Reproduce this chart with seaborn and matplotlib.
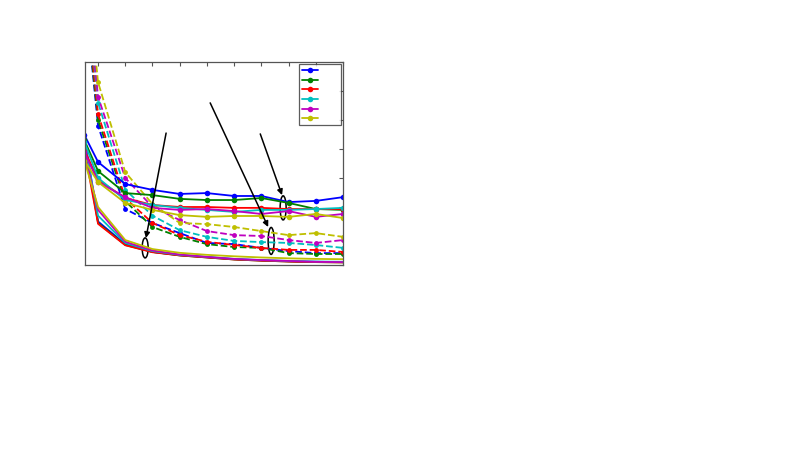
import numpy as np
import pandas as pd
import matplotlib
matplotlib.use("Agg")
import matplotlib.pyplot as plt
import seaborn as sns
from matplotlib.patches import Ellipse

sns.set_style("white")

x_vals = [0.5, 1, 2, 3, 4, 5, 6, 7, 8, 9, 10]
colors = ["#0000ff", "#008000", "#ff0000", "#00bfbf", "#bf00bf", "#bfbf00"]

# upper group: solid lines with markers
solid_marked = [
    [4.48, 3.55, 2.79, 2.59, 2.45, 2.48, 2.38, 2.38, 2.17, 2.21, 2.34],
    [4.30, 3.24, 2.48, 2.41, 2.28, 2.24, 2.24, 2.31, 2.14, 1.93, 1.90],
    [3.97, 2.93, 2.31, 2.07, 2.00, 2.00, 1.97, 1.97, 1.93, 1.93, 1.93],
    [4.24, 3.00, 2.24, 2.07, 1.97, 1.90, 1.83, 1.90, 1.90, 1.93, 1.97],
    [3.90, 2.86, 2.34, 1.97, 1.90, 1.93, 1.86, 1.76, 1.86, 1.66, 1.76],
    [3.60, 2.86, 2.14, 1.90, 1.72, 1.66, 1.69, 1.69, 1.66, 1.76, 1.62],
]

# middle group: dashed lines with markers
dashed_marked = [
    [9.5, 4.8, 1.93, 1.45, 1.10, 0.76, 0.72, 0.59, 0.48, 0.41, 0.41],
    [9.5, 5.0, 2.20, 1.31, 0.97, 0.72, 0.62, 0.59, 0.41, 0.38, 0.38],
    [9.8, 5.2, 2.30, 1.45, 1.03, 0.80, 0.69, 0.59, 0.52, 0.52, 0.45],
    [10.2, 5.6, 2.60, 1.70, 1.20, 0.97, 0.83, 0.79, 0.76, 0.69, 0.59],
    [10.5, 5.8, 3.00, 2.00, 1.55, 1.17, 1.03, 1.00, 0.86, 0.76, 0.86],
    [11.0, 6.3, 3.20, 2.10, 1.45, 1.41, 1.31, 1.17, 1.03, 1.10, 0.97],
]

# bottom group: solid lines, no markers
solid_plain = [
    [4.40, 1.50, 0.72, 0.45, 0.34, 0.27, 0.20, 0.16, 0.13, 0.11, 0.10],
    [4.20, 1.45, 0.69, 0.45, 0.33, 0.26, 0.19, 0.15, 0.12, 0.10, 0.09],
    [3.95, 1.42, 0.68, 0.44, 0.33, 0.26, 0.19, 0.15, 0.12, 0.10, 0.09],
    [4.25, 1.70, 0.76, 0.48, 0.35, 0.28, 0.21, 0.17, 0.14, 0.12, 0.11],
    [3.85, 1.90, 0.80, 0.50, 0.36, 0.28, 0.21, 0.17, 0.14, 0.11, 0.10],
    [3.60, 2.00, 0.86, 0.55, 0.42, 0.35, 0.30, 0.26, 0.23, 0.21, 0.20],
]

fig = plt.figure(figsize=(8, 4.5), dpi=100)
ax = fig.add_axes([85 / 800, 1 - 265 / 450, (343 - 85) / 800, (265 - 62) / 450])

handles = []
for i, c in enumerate(colors):
    df = pd.DataFrame({"x": x_vals, "y": solid_plain[i]})
    sns.lineplot(data=df, x="x", y="y", color=c, linewidth=1.3, ax=ax)
for i, c in enumerate(colors):
    df = pd.DataFrame({"x": x_vals, "y": dashed_marked[i]})
    sns.lineplot(data=df, x="x", y="y", color=c, linewidth=1.3, linestyle="--",
                 marker="o", markersize=3.5, markeredgewidth=0, ax=ax)
for i, c in enumerate(colors):
    df = pd.DataFrame({"x": x_vals, "y": solid_marked[i]})
    sns.lineplot(data=df, x="x", y="y", color=c, linewidth=1.3,
                 marker="o", markersize=4, markeredgewidth=0, ax=ax)
    handles.append(ax.lines[-1])

ax.set_xlim(0.52, 10)
ax.set_ylim(0, 7)
ax.set_xticks(range(1, 11))
ax.set_yticks(range(0, 8))
ax.set_xticklabels([])
ax.set_yticklabels([])
ax.set_xlabel("")
ax.set_ylabel("")
ax.tick_params(direction="in", top=True, right=True, length=3, width=0.8, colors="#555555")
for s in ax.spines.values():
    s.set_color("#555555")
    s.set_linewidth(0.9)

# arrows and ellipses
arrows = [((3.5, 4.55), (2.76, 0.93)), ((5.12, 5.59), (7.25, 1.31)), ((6.96, 4.52), (7.76, 2.41))]
ellipses = [((2.73, 0.59), 0.22, 0.69), ((7.36, 0.83), 0.22, 0.93), ((7.80, 1.97), 0.22, 0.83)]
for (xt, xh) in arrows:
    ax.annotate("", xy=xh, xytext=xt,
                arrowprops=dict(arrowstyle="-|>", color="black", lw=1.1,
                                mutation_scale=8, shrinkA=0, shrinkB=0))
for (cxy, w, h) in ellipses:
    ax.add_patch(Ellipse(cxy, w, h, fill=False, edgecolor="black", linewidth=1.1))

leg = ax.legend(handles, ["       "] * 6, loc="upper right", fontsize=5, frameon=True,
                fancybox=False, handlelength=2.2, labelspacing=0.52,
                borderaxespad=0.35, handletextpad=0.6, borderpad=0.45)
leg.get_frame().set_edgecolor("#333333")
leg.get_frame().set_linewidth(0.9)

fig.savefig("out.png", dpi=100)
